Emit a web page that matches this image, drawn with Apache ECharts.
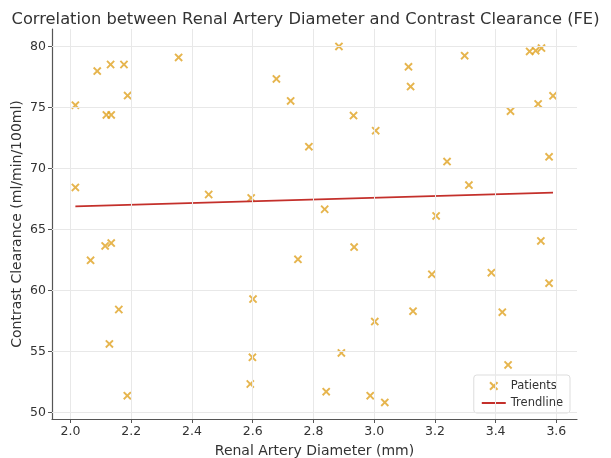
<!DOCTYPE html>
<html>
<head>
<meta charset="utf-8">
<script src="https://cdn.jsdelivr.net/npm/echarts@6/dist/echarts.min.js"></script>
<style>
html,body{margin:0;padding:0;background:#fff;}
#main{width:611px;height:458px;}
</style>
</head>
<body>
<div id="main"></div>
<script>
// patients: diameter (mm) / clearance (ml/min/100ml)
var diameter = [2.016, 2.088, 2.132, 2.176, 2.188, 2.118, 2.134, 2.356, 2.016, 2.455, 2.595,
	2.884, 2.678, 2.725, 3.113, 3.120, 2.932, 3.005, 2.785, 3.240, 2.837, 3.204,
	3.298, 3.512, 3.532, 3.551, 3.589, 3.540, 3.449, 3.576, 3.312,
	2.066, 2.114, 2.134, 2.159, 2.128, 2.187, 2.601, 2.599, 2.592,
	2.749, 2.934, 3.190, 3.128, 3.002, 2.892, 2.842, 2.987, 3.035,
	3.549, 3.386, 3.576, 3.422, 3.441];
var clearance = [75.18, 77.98, 78.52, 78.52, 75.97, 74.38, 74.38, 79.10, 68.44, 67.86, 67.58,
	80.00, 77.34, 75.53, 78.33, 76.71, 74.33, 73.09, 71.78, 70.56, 66.65, 66.10,
	79.24, 79.59, 79.65, 79.87, 75.95, 75.29, 74.69, 70.95, 68.63,
	62.46, 63.64, 63.88, 58.43, 55.61, 51.36, 59.28, 54.51, 52.32,
	62.54, 63.55, 61.31, 58.29, 57.44, 54.87, 51.69, 51.36, 50.81,
	64.05, 61.45, 60.59, 58.21, 53.88];
var trendX = [2.016, 3.589];
var trendY = [66.88, 68.02];
var xTicks = [2.0, 2.2, 2.4, 2.6, 2.8, 3.0, 3.2, 3.4, 3.6];
var yTicks = [50, 55, 60, 65, 70, 75, 80];

// thick "x" marker like matplotlib's
var crossIcon = 'path://M0,1.6L1.6,0L5,3.4L8.4,0L10,1.6L6.6,5L10,8.4L8.4,10L5,6.6L1.6,10L0,8.4L3.4,5Z';
var font = 'DejaVu Sans';

var points = [];
for (var i in diameter) {
	points.push([diameter[i], clearance[i]]);
}
var trend = [];
for (var i in trendX) {
	trend.push([trendX[i], trendY[i]]);
}

var myChart = echarts.init(document.getElementById('main'));
var option = {
	animation: false,
	backgroundColor: '#fff',
	title: {
		text: 'Correlation between Renal Artery Diameter and Contrast Clearance (FE)',
		left: 'center',
		top: 7,
		textStyle: { fontFamily: font, fontSize: 16.3, fontWeight: 'normal', color: '#333' }
	},
	grid: { left: 52, top: 29, right: 34, bottom: 39, outerBoundsMode: 'none' },
	xAxis: {
		type: 'value',
		min: 1.939,
		max: 3.668,
		name: 'Renal Artery Diameter (mm)',
		nameLocation: 'middle',
		nameGap: 25,
		nameMoveOverlap: false,
		nameTextStyle: { fontFamily: font, fontSize: 14, color: '#333' },
		axisLine: { onZero: false, lineStyle: { color: '#555', width: 1.2 } },
		axisTick: { show: true, length: 4, customValues: xTicks, lineStyle: { color: '#555' } },
		axisLabel: {
			customValues: xTicks, fontFamily: font, fontSize: 12.5, color: '#333', margin: 6,
			formatter: function (v) { return v.toFixed(1); }
		},
		splitLine: { show: false }
	},
	yAxis: {
		type: 'value',
		min: 49.45,
		max: 81.43,
		name: 'Contrast Clearance (ml/min/100ml)',
		nameLocation: 'middle',
		nameGap: 28,
		nameMoveOverlap: false,
		nameTextStyle: { fontFamily: font, fontSize: 14, color: '#333' },
		axisLine: { show: true, onZero: false, lineStyle: { color: '#555', width: 1.2 } },
		axisTick: { show: true, length: 4, customValues: yTicks, lineStyle: { color: '#555' } },
		axisLabel: { customValues: yTicks, fontFamily: font, fontSize: 12.5, color: '#333', margin: 6 },
		splitLine: { show: false }
	},
	legend: {
		right: 41,
		bottom: 45,
		orient: 'vertical',
		itemGap: 5,
		itemWidth: 24,
		itemHeight: 9,
		padding: [5, 7, 4, 7],
		backgroundColor: 'rgba(255,255,255,0.85)',
		borderColor: '#ddd',
		borderWidth: 1,
		borderRadius: 3,
		textStyle: { fontFamily: font, fontSize: 11.5, color: '#333' },
		data: [
			{ name: 'Patients', icon: crossIcon },
			{ name: 'Trendline', itemStyle: { color: 'rgba(0,0,0,0)', borderColor: 'rgba(0,0,0,0)', borderWidth: 0 } }
		]
	},
	series: [{
		name: 'grid',
		type: 'line',
		data: [],
		silent: true,
		markLine: {
			symbol: 'none',
			silent: true,
			label: { show: false },
			lineStyle: { color: '#e8e8e8', type: 'solid', width: 1 },
			data: xTicks.map(function (v) { return { xAxis: v }; })
				.concat(yTicks.map(function (v) { return { yAxis: v }; }))
		}
	}, {
		name: 'Patients',
		type: 'scatter',
		symbol: crossIcon,
		symbolSize: 8.5,
		itemStyle: { color: '#e0a322' },
		data: points,
		z: 3
	}, {
		name: 'Trendline',
		type: 'line',
		showSymbol: false,
		symbol: 'none',
		lineStyle: { color: '#c4302b', width: 1.8 },
		itemStyle: { color: '#c4302b' },
		data: trend,
		z: 4
	}]
};
myChart.setOption(option);
</script>
</body>
</html>
